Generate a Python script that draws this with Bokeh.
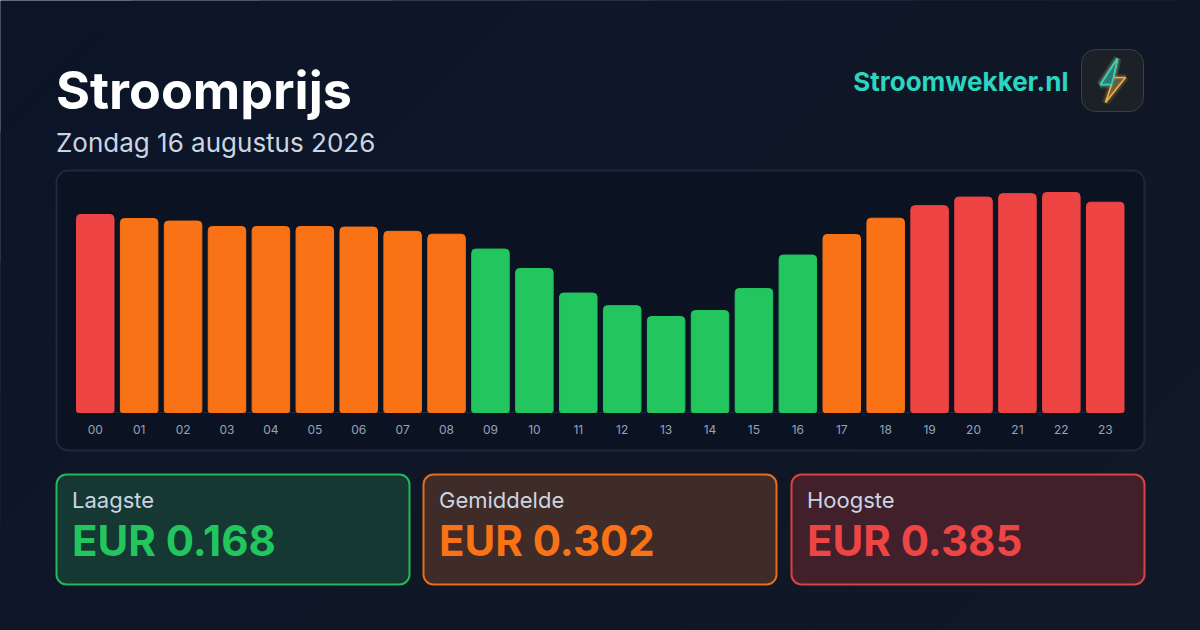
from bokeh.core.properties import value
from bokeh.embed import file_html
from bokeh.resources import INLINE
from bokeh.plotting import figure
from bokeh.models import ColumnDataSource, FixedTicker, Range1d

hour_index = list(range(24))
hours = [f"{h:02d}" for h in hour_index]
prices = [0.3465, 0.3395, 0.335, 0.3255, 0.3255, 0.3255, 0.3245, 0.317, 0.312,
          0.286, 0.252, 0.209, 0.187, 0.168, 0.1785, 0.217, 0.2755, 0.3115,
          0.340, 0.362, 0.377, 0.383, 0.385, 0.368]
bands = ["r", "o", "o", "o", "o", "o", "o", "o", "o", "g", "g", "g", "g", "g", "g",
         "g", "g", "o", "o", "r", "r", "r", "r", "r"]
palette = {"g": "#22c55e", "o": "#f97316", "r": "#ef4444"}
title = "Stroomprijs"
subtitle = "Zondag 16 augustus 2026"
brand = "Stroomwekker.nl"
stats = [("Laagste", "EUR 0.168", "#22c55e", "#153833"),
         ("Gemiddelde", "EUR 0.302", "#f97316", "#3f2b27"),
         ("Hoogste", "EUR 0.385", "#ef4444", "#41202c")]

source = ColumnDataSource(dict(hour=hour_index, price=prices,
                               color=[palette[b] for b in bands]))

PX_PER_HOUR = 43.913
PX_PER_EUR = 571.43
X0 = 94.75
BASE = 412.0
p = figure(width=1200, height=630, output_backend="svg", toolbar_location=None,
           x_range=Range1d(-X0 / PX_PER_HOUR, (1200 - X0) / PX_PER_HOUR),
           y_range=Range1d(-(630 - BASE) / PX_PER_EUR, BASE / PX_PER_EUR),
           min_border=0, outline_line_color=None,
           border_fill_color="#0c1528", background_fill_color="#0c1528",
           styles={"position": "absolute", "left": "0px", "top": "0px"})
p.extra_x_ranges["px"] = Range1d(0, 1200)
p.extra_y_ranges["py"] = Range1d(630, 0)
p.grid.visible = False
p.yaxis.visible = False
ax = p.xaxis[0]
ax.fixed_location = 0
ax.ticker = FixedTicker(ticks=hour_index)
ax.major_label_overrides = dict(zip(hour_index, hours))
ax.axis_line_color = None
ax.major_tick_line_color = None
ax.minor_tick_line_color = None
ax.major_label_text_font = "Inter"
ax.major_label_text_font_size = "12px"
ax.major_label_text_color = "#94a3b8"
ax.major_label_standoff = 6
px = dict(x_range_name="px", y_range_name="py")


def box(l, t, r, b, fill, line=None, radius=0, width=1, line_alpha=1.0):
    p.quad(left=[l], right=[r], top=[t], bottom=[b], fill_color=fill, line_color=line,
           line_width=width, line_alpha=line_alpha, border_radius=radius,
           level="underlay", **px)


def text(x, y, s, size, color, weight="normal", align="left"):
    p.text(x=[x], y=[y], text=[s], text_font=value("Inter"), text_font_size=f"{size}px",
           text_font_style=weight, text_color=color, text_align=align,
           text_baseline="alphabetic", level="overlay", **px)


# diagonal page background, painted from top-left to bottom-right
c0, c1 = (12, 21, 40), (17, 24, 39)
n = 14
for i in range(n):
    s = 1830 * i / n
    t = i / (n - 1)
    col = "#%02x%02x%02x" % tuple(round(a + (b - a) * t) for a, b in zip(c0, c1))
    p.patch([s, s + 1830, s + 1830, s - 1830], [0, 0, 1830, 1830], fill_color=col,
            line_color=None, level="underlay", **px)

# chart panel
box(56, 170, 1144, 450, "#0b1323", "#1e293b", 12, 2)
p.line([76, 1124], [412, 412], line_color="#1e293b", line_width=1, level="underlay", **px)
p.vbar(x="hour", top="price", width=37.5 / PX_PER_HOUR, color="color", source=source,
       border_radius=(4, 4, 2, 2))

text(55.5, 90, title, 52, "#ffffff", "bold")
text(55.5, 142, subtitle, 26, "#cbd5e1")
text(1068, 80.5, brand, 26, "#2dd4bf", "bold", "right")

# icon
box(1081, 49, 1143, 111, "#1c2128", "#3a3f46", 14, 1)
bolt_x = [1117, 1100, 1111, 1105, 1125, 1113]
bolt_y = [58, 84, 84, 102, 77, 77]
top_x = [1117, 1100, 1111, 1113]
top_y = [58, 84, 84, 77]
for w, a in ((8, 0.10), (5, 0.16)):
    p.patch(bolt_x, bolt_y, fill_alpha=0, line_color="#f0a83c", line_width=w, line_alpha=a,
            level="overlay", **px)
    p.patch(top_x, top_y, fill_alpha=0, line_color="#2dd4bf", line_width=w, line_alpha=a,
            level="overlay", **px)
p.patch(bolt_x, bolt_y, fill_color="#8a7a50", fill_alpha=0.6, line_color="#f0b04a",
        line_width=1.6, level="overlay", **px)
p.patch(top_x, top_y, fill_color="#1f7f7c", fill_alpha=0.8, line_color="#2dd4bf",
        line_width=1.6, level="overlay", **px)

# stat cards
for (label, val, col, fill), x0 in zip(stats, (56, 423, 791)):
    box(x0, 474, x0 + 353, 584, fill, col, 10, 2, 0.92)
    text(x0 + 15.5, 499, label, 22, "#cbd5e1")
    text(x0 + 15.5, 540, val, 42, col, "bold")

open("out.html", "w").write(file_html(p, INLINE))
